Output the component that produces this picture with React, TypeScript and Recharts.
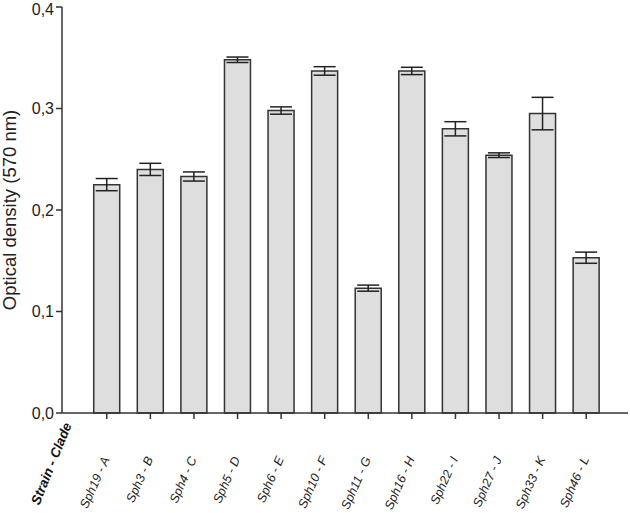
import React from 'react';
import { BarChart, Bar, XAxis, YAxis, ErrorBar } from 'recharts';

const strains = ['Sph19 - A', 'Sph3 - B', 'Sph4 - C', 'Sph5 - D', 'Sph6 - E', 'Sph10 - F', 'Sph11 - G', 'Sph16 - H', 'Sph22 - I', 'Sph27 - J', 'Sph33 - K', 'Sph46 - L'];
const density = [0.225, 0.240, 0.233, 0.348, 0.298, 0.337, 0.123, 0.337, 0.280, 0.254, 0.295, 0.153];
const errors = [0.006, 0.006, 0.0045, 0.0027, 0.0036, 0.0042, 0.003, 0.0036, 0.007, 0.0023, 0.016, 0.0055];
const yTicks = [0, 0.1, 0.2, 0.3, 0.4];

const chartData = strains.map((name, i) => ({ name, od: density[i], err: errors[i] }));

const FONT = '"Liberation Sans", Arial, sans-serif';

// rotated italic labels, plus the bold "Strain - Clade" header next to the first one
const StrainTick = (props: any) => {
  const { x, y, payload, index } = props;
  return (
    <g>
      <text
        transform={`translate(${x + 3},${y + 38}) rotate(-66)`}
        textAnchor="end"
        fontFamily={FONT}
        fontStyle="italic"
        fontSize={12.5}
        fill="#222"
      >
        {payload.value}
      </text>
      {index === 0 && (
        <text
          transform={`translate(${x - 35},${y + 4}) rotate(-68)`}
          textAnchor="end"
          fontFamily={FONT}
          fontStyle="italic"
          fontWeight="bold"
          fontSize={13.5}
          fill="#111"
        >
          Strain - Clade
        </text>
      )}
    </g>
  );
};

const YLabel = (props: any) => {
  const { viewBox } = props;
  const cy = viewBox.y + viewBox.height / 2;
  return (
    <text
      x={16}
      y={cy}
      transform={`rotate(-90 16 ${cy})`}
      textAnchor="middle"
      fontFamily={FONT}
      fontSize={18.5}
      fill="#222"
    >
      Optical density (570 nm)
    </text>
  );
};

export default function App() {
  return (
    <div style={{ position: 'absolute', left: 0, top: 0, background: '#fff' }}>
      <BarChart
        width={630}
        height={513}
        data={chartData}
        margin={{ top: 7, right: 2, bottom: 0, left: 0 }}
        barCategoryGap="20%"
      >
        <XAxis
          dataKey="name"
          interval={0}
          padding={{ left: 23, right: 20 }}
          stroke="#333"
          strokeWidth={1.5}
          tickSize={6}
          tick={<StrainTick />}
          height={100}
        />
        <YAxis
          domain={[0, 0.4]}
          ticks={yTicks}
          width={62}
          stroke="#333"
          strokeWidth={1.5}
          tickSize={6}
          tickFormatter={(v: number) => v.toFixed(1).replace('.', ',')}
          tick={{ fill: '#222', fontSize: 16, fontFamily: FONT }}
          label={<YLabel />}
        />
        <Bar dataKey="od" fill="#dedede" stroke="#333" strokeWidth={1.5} isAnimationActive={false}>
          <ErrorBar dataKey="err" width={11} stroke="#222" strokeWidth={1.5} />
        </Bar>
      </BarChart>
    </div>
  );
}
